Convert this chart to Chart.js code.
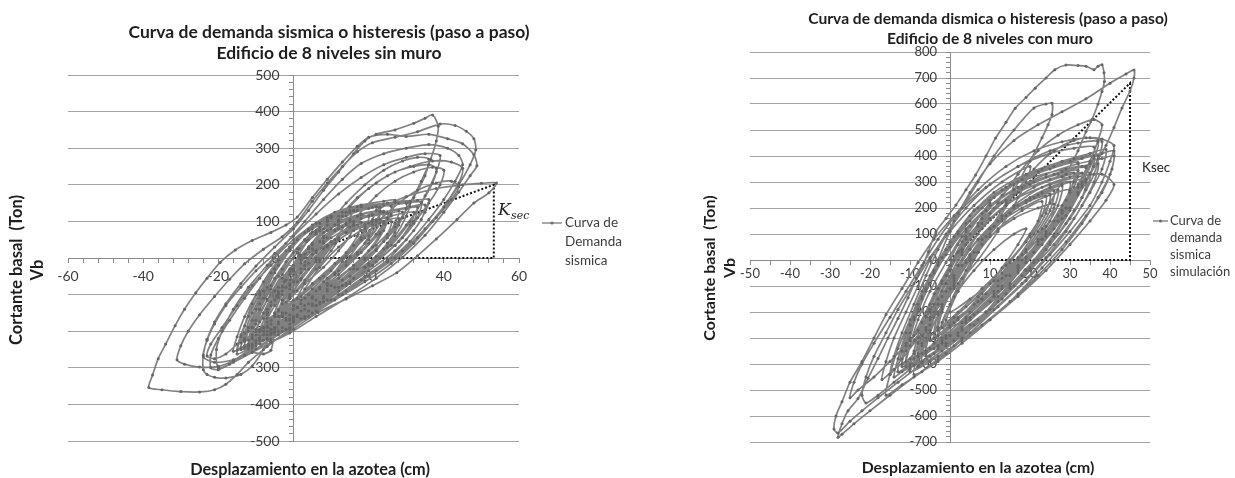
<!DOCTYPE html>
<html>
<head>
<meta charset="utf-8">
<script src="https://cdn.jsdelivr.net/npm/chart.js@4.4.1/dist/chart.umd.min.js"></script>
<style>
  html, body { margin: 0; padding: 0; background: #ffffff; }
  #hoja { position: relative; width: 1235px; height: 478px; overflow: hidden; background: #ffffff; }
  .panel { position: absolute; top: 0; height: 478px; }
  #panelSin { left: 0; width: 650px; }
  #panelCon { left: 617px; width: 618px; }
</style>
</head>
<body>
<div id="hoja">
  <div class="panel" id="panelSin"><canvas id="graficaSin" width="650" height="478"></canvas></div>
  <div class="panel" id="panelCon"><canvas id="graficaCon" width="618" height="478"></canvas></div>
</div>
<script>
// ---- Edificio de 8 niveles sin muro: desplazamiento azotea (cm), cortante basal (Ton) ----
const sinMuroInicio = [
  [0,0],[1.5,25],[3,50],[4.5,66],[5,72],[3.5,45],[1.5,10],[-0.5,-30],[-2.5,-65],[-4,-92],[-4.5,-104],
  [-3,-76],[-1,-36],[1.5,10],[4,50],[7,84],[9,104],[10,112],[8,80],[5,36],[2,-14],[-1,-60],[-4,-108],
  [-7,-148],[-8,-165],[-6,-130],[-3,-80],[0,-30],[4,25],[8,70],[12,104],[15,124],[16,130]
];
const sinMuroBanda = [
  [14,95],[11,50],[7,-5],[3,-60],[-2,-120],[-7,-175],[-11,-210],[-13,-228],
  [-12,-190],[-10,-140],[-7,-80],[-4,-20],[0,40],[5,90],[11,125],[18,145],[24,155],[27,158],
  [26,120],[23,70],[18,15],[12,-45],[5,-105],[-1,-155],[-7,-200],[-12,-235],[-15,-252],
  [-14,-210],[-12,-160],[-9,-95],[-5,-30],[-1,30],[4,80],[10,115],[18,140],[27,152],[33,158],[36,160],
  [35,125],[32,75],[27,20],[20,-35],[12,-90],[4,-145],[-3,-190],[-9,-225],[-13,-245],
  [-12,-200],[-9,-140],[-6,-75],[-2,-10],[3,50],[9,100],[16,130],[24,145],[30,150],
  [29,110],[25,55],[19,0],[12,-55],[5,-110],[-2,-165],[-8,-210],[-13,-240],[-16,-255],
  [-15,-215],[-13,-160],[-10,-100],[-6,-40],[-2,20],[3,70],[9,110],[15,130],[22,140],
  [21,105],[18,55],[13,0],[7,-55],[1,-110],[-5,-160],[-10,-200],[-13,-220],
  [-11,-170],[-8,-110],[-4,-50],[1,15],[7,75],[14,115],[22,140],[30,150],[34,152],
  [33,110],[29,55],[23,0],[16,-55],[8,-110],[1,-160],[-6,-205],[-11,-235],[-14,-245],
  [-12,-190],[-9,-125],[-5,-55],[0,15],[6,75],[13,115],[20,135],[26,142]
];
const sinMuroGrandes = [
  [24,95],[20,40],[14,-20],[7,-80],[0,-140],[-5,-190],[-8,-250],[-11,-295],[-14,-318],[-18,-328],[-21,-326],[-23,-318],[-24,-305],
  [-24,-265],[-23,-222],[-21,-175],[-18,-125],[-14,-70],[-10,-22],[-5,30],[0,80],[4,130],[8,185],[12,235],[16,285],[19,320],[22,338],[27,350],[32,368],[35,382],[37,391],
  [38.5,360],[38,320],[36.5,270],[34,210],[31,150],[27,85],[22,25],[16,-30],[9,-90],[2,-145],[-5,-200],[-11,-245],[-16,-280],[-20,-296],[-25,-298],[-29,-290],[-31,-278],
  [-30,-240],[-28,-200],[-25,-155],[-21,-105],[-17,-58],[-13,-16],[-8,24],[-3,58],[1,98],[5,155],[9,205],[13,250],[17,290],[21,315],[27,330],[33,345],[39,366],[43,362],[46,346],[48,326],
  [48.5,296],[47,255],[44,200],[40,140],[35,80],[29,20],[22,-35],[14,-90],[6,-145],[-1,-195],[-7,-242],[-12,-285],[-15,-318],[-18,-345],[-21,-360],[-25,-366],[-30,-365],[-35,-360],[-38.5,-354],
  [-37.5,-320],[-36,-275],[-34,-235],[-31.5,-185],[-29,-140],[-26,-95],[-23,-55],[-19.5,-12],[-15.5,22],[-11,48],[-6,70],[-2,90],[1,112],[5,165],[9,215],[13,262],[17,305],[20,330],[25,338],[30,332],[36,338],[41,326],[45,312],[48,282],[48.8,252],
  [47,225],[44,180],[40,125],[35,62],[29,2],[22,-55],[14,-110],[6,-160],[-1,-205],[-6,-228],[-9,-218],[-12,-240],[-11,-256],[-8,-262],[-6,-252],
  [-5,-205],[-3,-150],[0,-90],[4,-30],[9,30],[15,85],[22,130],[30,168],[38,190],[45,200],[50,204],[54,205],
  [52,178],[48,150],[43.5,105],[38,52],[33,6],[27.5,-40],[21,-76],[14,-112],[6.5,-149],[0,-194],[-6,-230],[-11,-258],[-16,-285],[-20,-300],
  [-20.5,-250],[-19,-200],[-16,-140],[-12,-80],[-7,-20],[-2,40],[3,100],[8,160],[13,215],[18,258],[24,285],[30,300],[36,310],[41,300],[44,280],[45,255],
  [43,210],[40,160],[36,105],[31,45],[25,-10],[18,-60],[10,-115],[3,-165],[-4,-210],[-10,-248],[-16,-278],[-21,-285],[-24,-270],
  [-23,-225],[-21,-180],[-18,-130],[-14,-80],[-10,-35],[-5,12],[0,60],[6,120],[12,175],[18,220],[24,255],[30,275],[35,285],[39,280]
];
const sinMuroFinal = [
  [38,235],[35,170],[31,100],[26,35],[20,-20],[13,-75],[6,-130],[-1,-180],[-7,-220],[-12,-248],[-15,-262],
  [-14,-215],[-12,-160],[-9,-100],[-5,-40],[-1,20],[4,75],[10,115],[17,140],[25,150],[31,155],
  [30,115],[27,60],[22,5],[15,-50],[8,-105],[1,-155],[-5,-195],[-10,-225],[-12,-235],
  [-10,-180],[-7,-115],[-3,-45],[1,15],[6,65],[12,100],[18,120],[23,128],
  [22,90],[19,40],[14,-10],[8,-65],[2,-115],[-4,-160],[-8,-190],[-10,-200],
  [-8,-150],[-5,-90],[-1,-30],[4,30],[9,75],[15,105],[20,115],
  [19,80],[16,35],[11,-15],[5,-70],[0,-115],[-5,-155],[-7,-165],
  [-5,-115],[-2,-60],[2,-5],[7,45],[12,80],[16,92],
  [15,60],[12,20],[8,-25],[3,-70],[-1,-105],[-3,-115],
  [-1,-75],[2,-30],[6,15],[10,45],[12,52]
];
const sinMuroRelleno = [
  [10,20],[6,-30],[1,-90],[-4,-145],[-9,-195],[-13,-225],[-14,-232],
  [-13,-185],[-11,-125],[-8,-65],[-4,-5],[1,50],[7,95],[14,125],[21,138],[26,142],
  [25,110],[22,65],[17,10],[11,-45],[4,-100],[-2,-150],[-7,-190],[-11,-215],
  [-10,-170],[-7,-115],[-3,-55],[2,5],[8,60],[15,100],[23,125],[30,135],[33,138],
  [32,100],[28,45],[22,-10],[15,-65],[7,-120],[0,-170],[-6,-210],[-10,-232],[-12,-240],
  [-10,-195],[-7,-140],[-4,-80],[0,-20],[5,40],[11,90],[18,118],[24,128],
  [23,95],[20,50],[15,0],[9,-55],[3,-110],[-3,-160],[-8,-200],[-11,-222],
  [-9,-175],[-6,-120],[-2,-60],[3,0],[9,55],[16,100],[24,125],[31,140],[35,145],
  [34,105],[30,50],[25,-5],[19,-50],[12,-100],[5,-150],[-1,-190],[-6,-222],[-9,-235],
  [-8,-190],[-5,-130],[-1,-70],[3,-10],[8,45],[14,90],[21,118],[28,130],
  [27,95],[24,45],[19,-5],[13,-60],[6,-115],[0,-165],[-5,-205],[-8,-225],[-11,-240],[-14,-250],
  [-13,-205],[-11,-150],[-8,-90],[-5,-30],[-1,25],[4,75],[10,110],[17,130],[23,138],
  [22,100],[19,55],[14,5],[8,-50],[2,-105],[-3,-150],[-7,-185],[-9,-200],
  [-7,-150],[-4,-95],[0,-35],[5,25],[11,75],[18,108],[25,122],[29,126],
  [28,90],[25,40],[20,-15],[14,-70],[8,-120],[2,-165],[-3,-200],[-7,-222],
  [-6,-180],[-3,-125],[1,-65],[6,-5],[12,50],[19,92],[26,115],[32,125],
  [31,90],[27,35],[21,-20],[15,-70],[9,-115],[3,-160],[-2,-195],
  [0,-140],[3,-85],[7,-25],[12,30],[18,75],[24,100],[28,108],
  [27,70],[24,25],[19,-25],[13,-75],[6,-130],[0,-175],[-4,-200],[-7,-210],
  [-10,-240],[-13,-265],[-17,-290],[-20,-305],[-22,-300],[-22,-265],[-20,-220],[-17,-170],[-13,-110],[-9,-55],[-5,0],[0,50],[6,95],[13,125],
  [12,90],[8,40],[3,-20],[-2,-80],[-7,-140],[-11,-190],[-15,-235],[-18,-262],[-21,-275],[-23,-268],
  [-22,-235],[-19,-190],[-15,-130],[-11,-75],[-6,-20],[-1,30],[5,80],[12,115],
  [17,165],[22,205],[27,235],[32,250],[36,255],[38,245],
  [37,205],[34,150],[30,90],[25,30],[19,-25],[12,-80],[5,-130],[-1,-170],[-6,-200],
  [-5,-150],[-3,-90],[0,-30],[4,30],[9,90],[14,150],[19,200],[24,240],[29,265],[33,275],[36,270],
  [35,225],[32,165],[28,100],[22,35],[16,-20],[9,-75],[2,-125],[-3,-160],
  [-1,-100],[2,-40],[6,20],[10,80],[15,140],[20,190],[25,225],[31,250],[37,265],[42,262],[45,245],
  [44,205],[41,155],[37,100],[32,40],[26,-15],[19,-65],[11,-115],[4,-160],[-2,-195],
  [0,-130],[3,-70],[7,-10],[12,55],[17,115],[22,170],[27,210],[32,235],[37,248],[40,240],
  [39,200],[36,150],[32,95],[27,35],[21,-20],[14,-75],[7,-125],
  [9,-70],[13,-10],[18,50],[23,105],[28,150],[33,185],[38,205],[42,210],[44,195],
  [42,160],[38,110],[33,55],[27,0],[20,-50],[13,-100]
];
const sinMuroNucleo = [
  [8,-120],[3,-140],[-3,-160],[-1,-110],[2,-55],[6,0],[11,50],[17,90],[22,105],[25,108],
  [24,75],[21,30],[16,-20],[10,-75],[4,-125],[-1,-165],[-5,-190],
  [-4,-140],[-1,-85],[3,-30],[8,25],[14,70],[20,95],[24,100],
  [23,65],[20,20],[15,-30],[9,-85],[3,-130],[-2,-170],[-6,-195],
  [-5,-150],[-3,-100],[0,-45],[5,10],[10,55],[16,88],[21,100],
  [20,60],[17,15],[12,-35],[7,-85],[1,-135],[-4,-175],[-8,-200],
  [-7,-155],[-4,-100],[-1,-45],[3,10],[8,55],[13,85],[18,98],
  [17,60],[14,15],[10,-35],[5,-85],[0,-130],[-4,-160],
  [-3,-115],[0,-65],[4,-15],[9,35],[14,70],[19,85],
  [18,50],[15,5],[11,-40],[6,-90],[1,-135],[-3,-160],
  [-1,-110],[2,-60],[6,-10],[11,40],[16,75],[21,92],[26,100],
  [25,65],[22,20],[17,-30],[11,-80],[5,-125],[0,-160],[-4,-180],
  [-6,-170],[-8,-190],[-10,-210],[-12,-225],[-11,-190],[-9,-140],[-6,-85],[-3,-30],[1,25],[6,70],[12,100],[17,115]
];
// rigidez secante (origen -> punto maximo -> eje)
const sinMuroKsec = [[0,0],[53.3,200],[53.3,0],[0,0]];
const sinMuroTicksX = [-60,-40,-20,0,20,40,60];
const sinMuroTicksY = [-500,-400,-300,-200,-100,0,100,200,300,400,500];

// ---- Edificio de 8 niveles con muro ----
const conMuroInicio = [
  [0,0],[2,60],[4,110],[5,130],[3,70],[0,-20],[-3,-110],[-5,-170],[-3,-110],[0,-20],[4,90],[8,180],[10,220],
  [7,140],[3,30],[-1,-90],[-5,-200],[-8,-270],[-9,-290],[-6,-200],[-2,-90],[3,40],[8,160],[13,250],[16,290],
  [14,220],[10,120],[5,10],[0,-110],[-5,-220],[-9,-310],[-11,-350]
];
const conMuroBanda = [
  [-10,-280],[-8,-190],[-5,-90],[-2,10],[2,110],[7,200],[14,280],[22,340],[30,380],[36,400],
  [35,330],[32,250],[28,160],[23,60],[17,-50],[10,-160],[3,-260],[-4,-340],[-10,-400],[-13,-430],
  [-12,-350],[-10,-250],[-7,-140],[-4,-40],[0,70],[5,170],[11,260],[19,330],[28,380],[35,410],[39,425],
  [38,350],[35,260],[31,160],[26,60],[20,-40],[13,-150],[6,-250],[-1,-330],[-7,-390],[-12,-430],[-14,-450],
  [-13,-380],[-11,-280],[-8,-170],[-5,-60],[-1,40],[4,140],[10,230],[17,300],[25,350],[32,375],
  [31,300],[28,210],[24,110],[19,10],[13,-100],[7,-200],[0,-290],[-6,-360],[-11,-410],
  [-10,-330],[-8,-230],[-5,-120],[-1,-10],[3,90],[9,190],[16,270],[24,330],[32,370],[38,390],[41,400],
  [40,330],[37,240],[33,140],[28,40],[22,-60],[15,-160],[8,-250],[1,-330],[-5,-390],[-10,-430],
  [-9,-350],[-7,-240],[-4,-130],[0,-20],[4,80],[10,180],[17,260],[25,310],[31,335],
  [30,260],[27,170],[22,70],[17,-30],[11,-130],[4,-230],[-2,-310],[-8,-370],[-12,-400]
];
const conMuroGrandes = [
  [-11,-320],[-9,-220],[-6,-110],[-3,0],[0,110],[3,200],[7,300],[11,400],[16,500],[21,585],[24,600],[25.5,603],
  [25.5,560],[24.5,520],[23,470],[20,380],[16,270],[12,150],[7,30],[2,-90],[-3,-200],[-8,-300],[-12,-380],[-15,-440],
  [-14,-370],[-12,-280],[-9,-170],[-6,-60],[-3,40],[1,150],[5,260],[10,370],[16,460],[22,520],[28,570],[34,620],[40,680],[44,715],[46,731],
  [46,700],[45,650],[43,585],[41,510],[39,440],[36,360],[32,260],[27,150],[21,30],[15,-90],[9,-200],[3,-300],[-3,-380],[-9,-450],[-15,-520],[-20,-580],[-24,-630],[-27,-670],[-28,-682],
  [-27,-630],[-25.5,-580],[-23,-533],[-20.5,-455],[-18,-379],[-15.5,-300],[-13,-225],[-10.5,-145],[-8.4,-71],[-6.5,-10],[-5.4,32],[-3.5,109],[-1,160],[1.5,212],[4,270],[6.4,327],[9,400],[11.4,469],[14,530],[16.3,584],[19,625],[21.3,661],[24,700],[26.2,732],[29,750],[32,748],[34,745],[36,732],[37,745],[38,751],
  [38.5,720],[38.6,687],[38,648],[37,600],[35.5,540],[34,494],[32,420],[29,330],[25,220],[20,100],[15,-10],[9,-130],[3,-240],[-3,-340],[-8,-410],[-13,-470],[-18,-530],[-22,-580],[-25,-620],[-28,-665],[-29,-650],[-28.5,-600],[-27,-545],
  [-25,-470],[-22,-390],[-19,-300],[-16,-210],[-12,-110],[-8,-10],[-4,80],[1,170],[7,270],[14,360],[21,420],[28,455],[34,470],[38,465],[41,440],
  [40,380],[38,300],[35,210],[30,110],[25,20],[19,-80],[12,-180],[5,-280],[-1,-360],[-7,-430],[-12,-480],[-16,-520],
  [-15,-440],[-13,-340],[-10,-230],[-7,-120],[-3,-10],[2,100],[8,200],[15,290],[23,350],[31,390],[38,410],[41,420],
  [40.5,350],[38,260],[34,170],[29,70],[23,-30],[17,-130],[10,-230],[3,-320],[-3,-390],[-9,-440]
];
const conMuroFinal = [
  [-8,-360],[-6,-260],[-3,-150],[0,-40],[4,60],[10,160],[17,240],[25,290],[32,320],[38,330],[41,290],
  [39,230],[35,150],[30,60],[24,-40],[17,-140],[10,-230],[3,-310],[-3,-370],[-8,-410],
  [-7,-330],[-5,-230],[-2,-120],[2,-20],[7,80],[13,170],[20,240],[28,290],[34,310],
  [33,240],[30,160],[25,60],[19,-40],[12,-140],[5,-230],[-1,-300],[-6,-350],
  [-5,-270],[-3,-170],[1,-60],[5,40],[11,130],[18,200],[25,250],[30,270],
  [29,200],[26,120],[21,30],[15,-60],[8,-150],[2,-220],[-3,-270],
  [-2,-190],[1,-100],[5,0],[10,90],[16,160],[22,200],[26,215],
  [25,150],[22,80],[17,0],[11,-80],[5,-150],[0,-200],
  [2,-120],[6,-40],[11,40],[16,100],[19,120]
];
const conMuroRelleno = [
  [17,60],[13,-30],[8,-130],[2,-230],[-4,-320],[-9,-380],[-12,-410],
  [-11,-330],[-9,-230],[-6,-120],[-3,-20],[1,90],[6,190],[13,270],[21,320],[29,350],[34,360],
  [33,290],[30,200],[26,100],[21,0],[15,-100],[9,-200],[2,-290],[-4,-360],[-9,-405],
  [-8,-320],[-6,-220],[-3,-110],[1,0],[5,100],[11,200],[18,280],[26,330],[33,360],[37,370],
  [36,300],[33,210],[29,110],[24,10],[18,-90],[11,-190],[4,-280],[-2,-350],[-7,-395],
  [-6,-300],[-4,-200],[-1,-90],[3,20],[8,120],[14,210],[21,280],[28,320],[33,335],
  [32,260],[29,170],[25,70],[20,-30],[14,-130],[7,-230],[1,-310],[-5,-370],[-10,-410],[-13,-430],
  [-12,-350],[-10,-250],[-7,-150],[-4,-50],[0,50],[5,150],[11,240],[18,310],[26,360],[33,390],[37,400],
  [36,330],[33,240],[29,140],[24,40],[18,-60],[12,-160],[5,-250],[-1,-320],[-6,-370],
  [-5,-280],[-2,-180],[1,-80],[5,20],[10,120],[16,210],[23,280],[30,320],[35,335],
  [34,270],[31,190],[27,100],[22,0],[16,-100],[10,-190],[3,-270],[-3,-330],[-8,-370],
  [-7,-290],[-5,-190],[-2,-80],[2,30],[7,130],[13,220],[20,290],[27,330],[32,345],
  [31,280],[28,190],[24,90],[19,-10],[13,-110],[6,-210],[0,-290],[-5,-340],[-10,-380],[-14,-420],[-17,-460],
  [-16,-390],[-14,-300],[-11,-200],[-8,-100],[-5,0],[-1,100],[4,200],[10,290],[17,360],[25,410],[31,430],[36,435],
  [35,370],[32,280],[28,180],[23,80],[17,-20],[11,-120],[4,-220],[-2,-300],[-7,-360],
  [-6,-270],[-4,-170],[-1,-60],[3,40],[8,140],[14,230],[21,300],[28,340],[34,355],
  [33,280],[30,190],[26,90],[21,-10],[15,-110],[9,-200],[2,-280],[-3,-330],
  [-2,-240],[1,-140],[4,-40],[8,60],[13,150],[19,230],[25,280],[30,300],
  [29,230],[26,150],[22,60],[17,-40],[11,-140],[5,-230],[-1,-300],[-6,-350],
  [-10,-420],[-14,-470],[-18,-520],[-21,-550],[-22,-520],[-21,-450],[-19,-370],[-16,-280],[-13,-190],[-9,-90],[-5,10],[0,110],[6,210],[13,300],[20,360],
  [19,300],[16,210],[12,110],[7,0],[1,-110],[-5,-220],[-10,-310],[-15,-390],[-19,-450],[-23,-500],[-25,-530],
  [-24,-470],[-22,-400],[-19,-320],[-15,-220],[-11,-120],[-7,-20],[-3,80],[2,180],[9,280],[17,360],[25,420],[32,450],[37,455],
  [36,390],[33,300],[29,200],[24,100],[18,0],[12,-100],[5,-200],[-1,-290],[-6,-350],
  [-5,-250],[-2,-140],[2,-20],[7,100],[12,220],[17,330],[22,420],[27,480],[32,520],[36,540],[38,520],
  [37,460],[35,380],[32,290],[28,190],[23,80],[17,-30],[11,-140],[4,-240],[-2,-320],
  [-1,-230],[2,-120],[6,0],[11,130],[16,250],[21,350],[26,420],[31,460],[35,470],[38,455],
  [37,390],[34,300],[30,200],[25,100],[19,-10],[12,-120],[5,-220]
];
const conMuroNucleo = [
  [0,-260],[-4,-300],[-2,-200],[1,-90],[5,20],[10,120],[16,200],[22,250],[27,270],
  [26,200],[23,120],[19,30],[14,-60],[8,-150],[2,-230],[-3,-290],
  [-2,-200],[1,-100],[5,0],[10,100],[15,180],[21,240],[26,265],
  [25,190],[22,110],[18,20],[13,-70],[7,-160],[1,-240],[-4,-300],
  [-3,-210],[0,-110],[4,-10],[9,90],[14,170],[20,230],[25,255],
  [24,180],[21,100],[17,10],[12,-80],[6,-170],[0,-250],[-5,-310],
  [-4,-220],[-1,-120],[3,-20],[8,80],[13,160],[19,220],[24,245],
  [23,170],[20,90],[15,0],[10,-90],[4,-180],[-2,-260],
  [0,-170],[3,-70],[7,30],[12,120],[18,190],[23,225],
  [22,150],[19,70],[14,-20],[8,-110],[2,-200],[-3,-260],
  [-2,-170],[1,-70],[6,30],[11,130],[17,210],[23,260],[28,285],
  [27,210],[24,130],[19,40],[13,-50],[7,-140],[1,-220],[-4,-280],
  [-7,-320],[-9,-360],[-11,-390],[-10,-300],[-8,-200],[-5,-90],[-1,20],[4,120],[10,210],[17,280],[24,320]
];
const conMuroKsec = [[0,0],[45,680],[45,0],[0,0]];
const conMuroTicksX = [-50,-40,-30,-20,-10,0,10,20,30,40,50];
const conMuroTicksY = [-700,-600,-500,-400,-300,-200,-100,0,100,200,300,400,500,600,700,800];

// ---- helpers ----
const aPuntos = (...tramos) => tramos.flat().map(([x, y]) => ({ x, y }));
const HUECO = '\u2002\u2002';

// texts and legend swatch drawn at fixed canvas positions
const rotulos = {
  id: 'rotulos',
  afterDraw(chart, args, opts) {
    const ctx = chart.ctx;
    for (const t of opts.textos || []) {
      ctx.save();
      ctx.font = t.font;
      ctx.fillStyle = t.color || '#1e1e1e';
      ctx.textAlign = t.align || 'center';
      ctx.textBaseline = 'middle';
      ctx.translate(t.x, t.y);
      if (t.rot) ctx.rotate(t.rot);
      ctx.fillText(t.text, 0, 0);
      ctx.restore();
    }
    const m = opts.muestra;
    if (m) {
      ctx.save();
      ctx.strokeStyle = '#7a7a7a';
      ctx.lineWidth = 1.3;
      ctx.beginPath();
      ctx.moveTo(m.x1, m.y);
      ctx.lineTo(m.x2, m.y);
      ctx.stroke();
      ctx.fillStyle = '#6e6e6e';
      ctx.beginPath();
      ctx.arc((m.x1 + m.x2) / 2, m.y, 1.6, 0, Math.PI * 2);
      ctx.fill();
      ctx.restore();
    }
  }
};

function crearGrafica(canvasId, cfg) {
  const mayorX = cfg.ticksX, mayorY = cfg.ticksY;
  return new Chart(document.getElementById(canvasId), {
    type: 'scatter',
    data: {
      datasets: [
        {
          data: cfg.curva,
          showLine: true,
          borderColor: 'rgba(118,118,118,0.92)',
          borderWidth: 1.7,
          tension: 0.25,
          pointRadius: 1.5,
          pointBorderWidth: 0,
          pointBackgroundColor: '#666666'
        },
        {
          data: cfg.ksec,
          showLine: true,
          borderColor: '#111111',
          borderWidth: 2,
          borderDash: [2, 2],
          pointRadius: 0,
          tension: 0
        }
      ]
    },
    options: {
      responsive: false,
      animation: false,
      events: [],
      layout: { padding: cfg.padding },
      plugins: {
        legend: { display: false },
        tooltip: { enabled: false },
        rotulos: { textos: cfg.textos, muestra: cfg.muestra }
      },
      scales: {
        x: {
          type: 'linear',
          position: { y: 0 },
          min: mayorX[0], max: mayorX[mayorX.length - 1],
          border: { color: '#8c8c8c', width: 1 },
          grid: { drawOnChartArea: false, tickLength: 4, tickColor: '#8c8c8c' },
          ticks: {
            stepSize: cfg.menorX, autoSkip: false, maxRotation: 0, padding: cfg.padTickX,
            color: '#3c3c3c', font: { family: 'Lato', size: cfg.fuenteTick },
            callback: v => mayorX.includes(v) ? String(v) : ''
          }
        },
        y: {
          type: 'linear',
          position: { x: 0 },
          min: mayorY[0], max: mayorY[mayorY.length - 1],
          border: { color: '#8c8c8c', width: 1 },
          grid: {
            drawOnChartArea: true, tickLength: 4, tickColor: '#8c8c8c', lineWidth: 1,
            color: c => (c.tick && mayorY.includes(c.tick.value)) ? '#a3a3a3' : 'rgba(0,0,0,0)'
          },
          ticks: {
            stepSize: 20, autoSkip: false, padding: 6,
            color: '#3c3c3c', font: { family: 'Lato', size: cfg.fuenteTick },
            callback: v => mayorY.includes(v) ? String(v) + HUECO : ''
          }
        }
      }
    },
    plugins: [rotulos]
  });
}

const negrita = (px) => `bold ${px}px Lato`;
const normal = (px) => `${px}px Lato`;
const vertical = -Math.PI / 2;

crearGrafica('graficaSin', {
  curva: aPuntos(sinMuroInicio, sinMuroBanda, sinMuroGrandes, sinMuroFinal, sinMuroRelleno, sinMuroNucleo),
  ksec: aPuntos(sinMuroKsec),
  ticksX: sinMuroTicksX, ticksY: sinMuroTicksY, menorX: 4,
  padding: { left: 68, right: 131, top: 75, bottom: 37 },
  fuenteTick: 14, padTickX: 6,
  textos: [
    { text: 'Curva de demanda sismica o histeresis (paso a paso)', x: 329, y: 32, font: negrita(17.5) },
    { text: 'Edificio de 8 niveles sin muro', x: 329, y: 53, font: negrita(17.5) },
    { text: 'Cortante basal  (Ton)', x: 17, y: 270, font: negrita(16.5), rot: vertical },
    { text: 'Vb', x: 38, y: 270, font: negrita(16.5), rot: vertical },
    { text: 'Desplazamiento en la azotea (cm)', x: 310, y: 470, font: negrita(16.3) },
    { text: 'Curva de', x: 565, y: 223, font: normal(13.5), align: 'left', color: '#3c3c3c' },
    { text: 'Demanda', x: 565, y: 242, font: normal(13.5), align: 'left', color: '#3c3c3c' },
    { text: 'sismica', x: 565, y: 261, font: normal(13.5), align: 'left', color: '#3c3c3c' },
    { text: 'K', x: 498, y: 211, font: 'italic 17px "DejaVu Serif"', align: 'left', color: '#222' },
    { text: 'sec', x: 511, y: 216, font: 'italic 11px "DejaVu Serif"', align: 'left', color: '#222' }
  ],
  muestra: { x1: 542, x2: 562, y: 223 }
});

crearGrafica('graficaCon', {
  curva: aPuntos(conMuroInicio, conMuroBanda, conMuroGrandes, conMuroFinal, conMuroRelleno, conMuroNucleo),
  ksec: aPuntos(conMuroKsec),
  ticksX: conMuroTicksX, ticksY: conMuroTicksY, menorX: 5,
  padding: { left: 133, right: 85, top: 52, bottom: 36 },
  fuenteTick: 13, padTickX: 2,
  textos: [
    { text: 'Curva de demanda dismica o histeresis (paso a paso)', x: 371, y: 19, font: negrita(15.6) },
    { text: 'Edificio de 8 niveles con muro', x: 373, y: 39, font: negrita(15.6) },
    { text: 'Cortante basal  (Ton)', x: 93, y: 268, font: negrita(16), rot: vertical },
    { text: 'Vb', x: 113, y: 268, font: negrita(16), rot: vertical },
    { text: 'Desplazamiento en la azotea (cm)', x: 361, y: 468, font: negrita(15.8) },
    { text: 'Ksec', x: 525, y: 168, font: normal(13.5), align: 'left', color: '#222' },
    { text: 'Curva de', x: 553, y: 221, font: normal(13), align: 'left', color: '#3c3c3c' },
    { text: 'demanda', x: 553, y: 238, font: normal(13), align: 'left', color: '#3c3c3c' },
    { text: 'sismica', x: 553, y: 255, font: normal(13), align: 'left', color: '#3c3c3c' },
    { text: 'simulación', x: 553, y: 272, font: normal(13), align: 'left', color: '#3c3c3c' }
  ],
  muestra: { x1: 536, x2: 551, y: 221 }
});
</script>
</body>
</html>
